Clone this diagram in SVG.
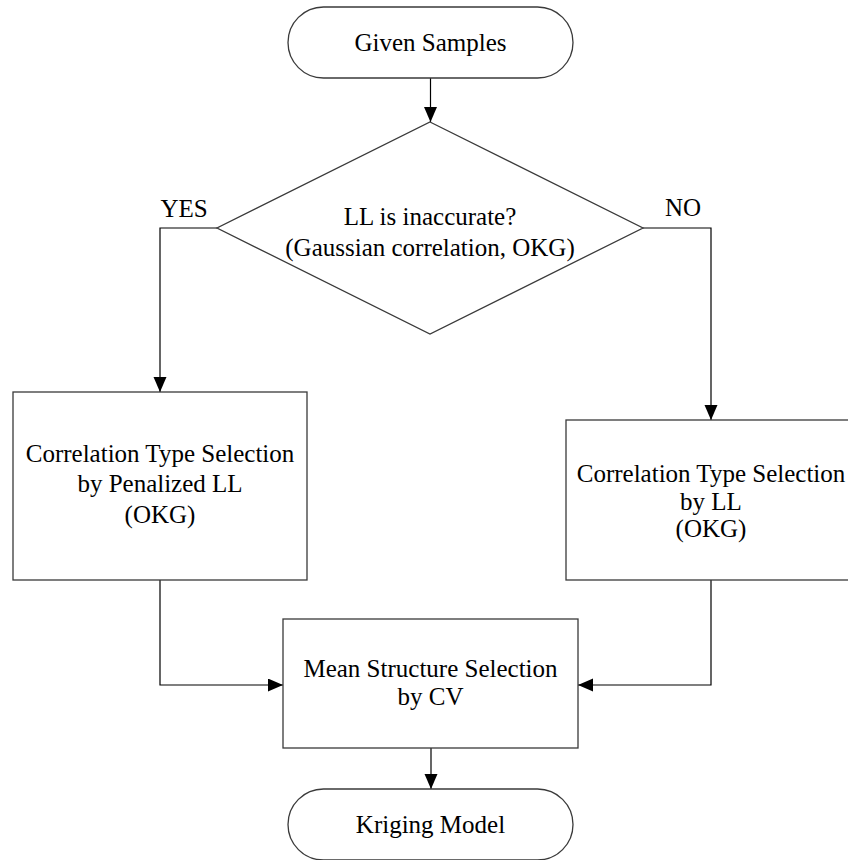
<svg xmlns="http://www.w3.org/2000/svg" width="848" height="860" viewBox="0 0 848 860">
<style>
.shape{fill:#fff;stroke:#3a3a3a;stroke-width:1.3}
.conn{fill:none;stroke:#000;stroke-width:1.2}
text{font-family:"Liberation Serif","Times New Roman",serif;font-size:25px;fill:#000;text-anchor:middle}
</style>
<defs>
<marker id="arr" markerUnits="userSpaceOnUse" markerWidth="16" markerHeight="14" refX="15" refY="6.5" orient="auto">
<path d="M0,0 L15,6.5 L0,13 z" fill="#000"/>
</marker>
</defs>
<rect width="848" height="860" fill="#fff"/>
<g id="connectors">
<path class="conn" d="M430.5,78 V122" marker-end="url(#arr)"/>
<path class="conn" d="M217,228 H160 V392" marker-end="url(#arr)"/>
<path class="conn" d="M643,228 H711 V420" marker-end="url(#arr)"/>
<path class="conn" d="M160,580 V685 H283" marker-end="url(#arr)"/>
<path class="conn" d="M711,580 V685 H578" marker-end="url(#arr)"/>
<path class="conn" d="M431,748 V789" marker-end="url(#arr)"/>
<text x="184" y="217">YES</text>
<text x="683" y="216">NO</text>
</g>
<g id="start">
<rect class="shape" x="288" y="7" width="285" height="71" rx="35.5" ry="35.5"/>
<text x="430.5" y="51">Given Samples</text>
</g>
<g id="decision">
<polygon class="shape" points="430,122 643,228 430,334 217,228"/>
<text x="430" y="225">LL is inaccurate?</text>
<text x="430" y="256">(Gaussian correlation, OKG)</text>
</g>
<g id="penalized">
<rect class="shape" x="13" y="392" width="294" height="188"/>
<text x="160" y="462">Correlation Type Selection</text>
<text x="160" y="492">by Penalized LL</text>
<text x="160" y="523">(OKG)</text>
</g>
<g id="byll">
<rect class="shape" x="566" y="420" width="290" height="160"/>
<text x="711" y="482">Correlation Type Selection</text>
<text x="711" y="510">by LL</text>
<text x="711" y="537">(OKG)</text>
</g>
<g id="mean">
<rect class="shape" x="283" y="619" width="295" height="129"/>
<text x="430.5" y="677">Mean Structure Selection</text>
<text x="430.5" y="705">by CV</text>
</g>
<g id="end">
<rect class="shape" x="288" y="789" width="285" height="71" rx="35.5" ry="35.5"/>
<text x="430.5" y="833">Kriging Model</text>
</g>
</svg>
